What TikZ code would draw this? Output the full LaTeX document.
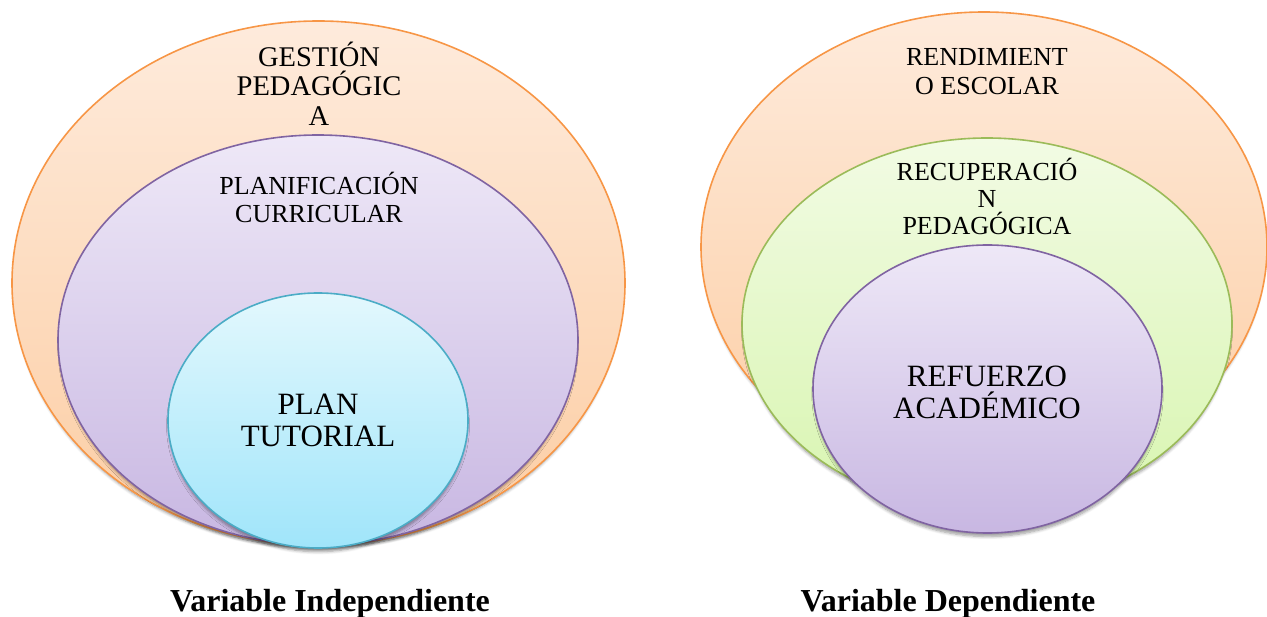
\documentclass[tikz,border=0pt]{standalone}
\usepackage{fontspec}
\setmainfont{Liberation Serif}
\usetikzlibrary{shapes.geometric,shadows.blur}
\definecolor{orE}{HTML}{F79646}
\definecolor{orT}{HTML}{FEEBDC}
\definecolor{orB}{HTML}{FCCDA3}
\definecolor{puE}{HTML}{8064A2}
\definecolor{puT}{HTML}{EEE8F7}
\definecolor{puB}{HTML}{C8B7E2}
\definecolor{cyE}{HTML}{4BACC6}
\definecolor{cyT}{HTML}{E3F8FD}
\definecolor{cyB}{HTML}{A0E5FA}
\definecolor{grE}{HTML}{9BBB59}
\definecolor{grT}{HTML}{F2FBE4}
\definecolor{grB}{HTML}{D8F5B0}
\tikzset{
  ring/.style={ellipse, inner sep=0pt, outer sep=0pt, line width=1.6pt, shading=axis,
    blur shadow={shadow xshift=0pt, shadow yshift=-5pt, shadow scale=0.99, shadow blur radius=3pt, shadow blur steps=6, shadow opacity=40}},
  orring/.style={ring, draw=orE, top color=orT, bottom color=orB},
  puring/.style={ring, draw=puE, top color=puT, bottom color=puB},
  cyring/.style={ring, draw=cyE, top color=cyT, bottom color=cyB},
  grring/.style={ring, draw=grE, top color=grT, bottom color=grB},
  lbl/.style={anchor=base, inner sep=0pt, outer sep=0pt, text=black},
  smalllbl/.style={lbl, font=\rmfamily\fontsize{26}{27}\selectfont},
  midlbl/.style={lbl, font=\rmfamily\fontsize{28.5}{30}\selectfont},
  biglbl/.style={lbl, font=\rmfamily\fontsize{31}{32}\selectfont},
  captionlbl/.style={lbl, font=\rmfamily\fontsize{32}{34}\selectfont\bfseries},
}
\begin{document}
\begin{tikzpicture}[x=1pt,y=-1pt]
\useasboundingbox (0,0) rectangle (1267,617);
% left diagram
\node[orring, minimum width=613, minimum height=524] (lo) at (318.5,283) {};
\node[puring, minimum width=520, minimum height=410] (lm) at (318,340) {};
\node[cyring, minimum width=300, minimum height=255] (li) at (318,420.5) {};
\node[midlbl] (t1) at (319,67) {GESTIÓN};
\node[midlbl] (t2) at (319,96) {PEDAGÓGIC};
\node[midlbl] (t3) at (319,126) {A};
\node[smalllbl] (t4) at (319,195) {PLANIFICACIÓN};
\node[smalllbl] (t5) at (319,223) {CURRICULAR};
\node[biglbl] (t6) at (318,415) {PLAN};
\node[biglbl] (t7) at (318,447) {TUTORIAL};
% right diagram
\node[orring, minimum width=566, minimum height=470] (ro) at (984,247) {};
\node[grring, minimum width=490, minimum height=372] (rm) at (987,324) {};
\node[puring, minimum width=349, minimum height=288] (ri) at (987.5,389) {};
\node[smalllbl] (u1) at (987,66) {RENDIMIENT};
\node[smalllbl] (u2) at (987,95) {O ESCOLAR};
\node[smalllbl] (u3) at (987,181) {RECUPERACIÓ};
\node[smalllbl] (u4) at (987,208) {N};
\node[smalllbl] (u5) at (987,235) {PEDAGÓGICA};
\node[biglbl] (u6) at (987,387) {REFUERZO};
\node[biglbl] (u7) at (987,419) {ACADÉMICO};
% captions
\node[captionlbl] (c1) at (330,611) {Variable Independiente};
\node[captionlbl] (c2) at (948,611) {Variable Dependiente};
\end{tikzpicture}
\end{document}
